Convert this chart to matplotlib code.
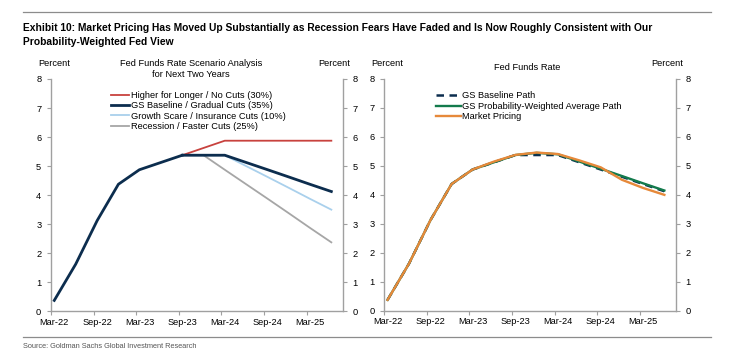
import pandas as pd
import matplotlib
matplotlib.use('Agg')
import matplotlib.pyplot as plt
import matplotlib.dates as mdates
from matplotlib.lines import Line2D

plt.rcParams['font.family'] = ['Liberation Sans', 'DejaVu Sans']

# quarterly dates (plotted mid-month)
hist_dates = ['2022-03-15', '2022-06-15', '2022-09-15', '2022-12-15',
              '2023-03-15', '2023-06-15', '2023-09-15']
hist_rate = [0.375, 1.625, 3.125, 4.375, 4.875, 5.125, 5.375]

scen_dates = ['2023-09-15', '2023-12-15', '2024-03-15', '2024-06-15',
              '2024-09-15', '2024-12-15', '2025-03-15', '2025-06-15']
higher_longer = [5.375, 5.625, 5.875, 5.875, 5.875, 5.875, 5.875, 5.875]
gs_baseline = [5.375, 5.375, 5.375, 5.125, 4.875, 4.625, 4.375, 4.125]
growth_scare = [5.375, 5.375, 5.375, 5.0, 4.625, 4.25, 3.875, 3.5]
recession = [5.375, 5.375, 4.875, 4.375, 3.875, 3.375, 2.875, 2.375]

path_dates = hist_dates + scen_dates[1:]
baseline_path = [0.375, 1.625, 3.125, 4.375, 4.875, 5.125, 5.375,
                 5.375, 5.375, 5.125, 4.875, 4.625, 4.375, 4.125]
weighted_path = [0.375, 1.625, 3.125, 4.375, 4.875, 5.125, 5.375,
                 5.45, 5.40, 5.15, 4.90, 4.65, 4.40, 4.15]
market_path = [0.375, 1.625, 3.125, 4.375, 4.875, 5.15, 5.38,
               5.46, 5.41, 5.19, 4.95, 4.52, 4.24, 4.00]

RED = '#C8423E'
NAVY = '#0C2D4E'
LBLUE = '#A9D0EC'
GRAY = '#A6A6A6'
GREEN = '#137A4C'
ORANGE = '#E6893A'
SPINE = '#A0A0A0'

hd = pd.to_datetime(hist_dates)
sd = pd.to_datetime(scen_dates)
pd_ = pd.to_datetime(path_dates)

fig = plt.figure(figsize=(7.33, 3.59), dpi=100)
W, H = 733, 359

def px_axes(x0, x1, y0, y1):
    return fig.add_axes([x0 / W, 1 - y1 / H, (x1 - x0) / W, (y1 - y0) / H])

def style_axes(ax):
    ax.set_ylim(0, 8)
    ax.set_yticks(range(0, 9))
    ax.set_xlim(pd.Timestamp('2022-03-01'), pd.Timestamp('2025-08-04'))
    ax.xaxis.set_major_locator(mdates.MonthLocator(bymonth=[3, 9]))
    ax.xaxis.set_major_formatter(plt.NullFormatter())
    ax.xaxis.set_minor_locator(mdates.MonthLocator(bymonth=[3, 9], bymonthday=15))
    ax.xaxis.set_minor_formatter(mdates.DateFormatter('%b-%y'))
    ax.tick_params(axis='x', which='major', length=3, color=SPINE, direction='out')
    ax.tick_params(axis='x', which='minor', length=0, labelsize=6.7, pad=4.5)
    ax.tick_params(axis='y', length=3, color=SPINE, direction='out', labelsize=6.7,
                   left=True, right=True, labelleft=True, labelright=True, pad=4)
    ax.spines['top'].set_visible(False)
    for s in ['left', 'right', 'bottom']:
        ax.spines[s].set_color(SPINE)
        ax.spines[s].set_linewidth(1.0)

# left panel
ax1 = px_axes(51, 343, 79, 311.3)
style_axes(ax1)
ax1.plot(sd, recession, color=GRAY, lw=1.3, label='Recession / Faster Cuts (25%)')
ax1.plot(sd, growth_scare, color=LBLUE, lw=1.3, label='Growth Scare / Insurance Cuts (10%)')
ax1.plot(sd, higher_longer, color=RED, lw=1.3, label='Higher for Longer / No Cuts (30%)')
ax1.plot(sd, gs_baseline, color=NAVY, lw=2.0, label='GS Baseline / Gradual Cuts (35%)')
ax1.plot(hd, hist_rate, color=NAVY, lw=2.0)
h, l = ax1.get_legend_handles_labels()
order = [2, 3, 1, 0]
ax1.legend([h[i] for i in order], [l[i] for i in order], loc='upper left',
           bbox_to_anchor=(111 / W, 1 - 91 / H), bbox_transform=fig.transFigure,
           frameon=False, fontsize=6.7, handlelength=1.9, handletextpad=0.25,
           labelspacing=0.14, borderpad=0, borderaxespad=0)

# right panel
ax2 = px_axes(384.3, 676, 79, 310.7)
style_axes(ax2)
ax2.plot(pd_, baseline_path, color=NAVY, lw=1.8, ls=(0, (3, 2.2)), label='GS Baseline Path')
ax2.plot(pd_, weighted_path, color=GREEN, lw=1.7, label='GS Probability-Weighted Average Path')
ax2.plot(pd_, market_path, color=ORANGE, lw=1.7, label='Market Pricing')
ax2.legend(loc='upper left', bbox_to_anchor=(435.5 / W, 1 - 91.5 / H),
           bbox_transform=fig.transFigure, frameon=False, fontsize=6.7,
           handlelength=2.7, handletextpad=0.2, labelspacing=0.14,
           borderpad=0, borderaxespad=0)

# labels above axes
def ftext(x, y, s, **kw):
    fig.text(x / W, 1 - y / H, s, va='center', **kw)

ftext(54, 63.3, 'Percent', ha='center', fontsize=6.7)
ftext(334, 63.3, 'Percent', ha='center', fontsize=6.7)
ftext(387, 63.3, 'Percent', ha='center', fontsize=6.7)
ftext(667.5, 63.3, 'Percent', ha='center', fontsize=6.7)
ftext(190.8, 63.3, 'Fed Funds Rate Scenario Analysis', ha='center', fontsize=6.7)
ftext(190.8, 74.3, 'for Next Two Years', ha='center', fontsize=6.7)
ftext(527.5, 67.7, 'Fed Funds Rate', ha='center', fontsize=6.7)

# header / footer
ftext(22.7, 28, 'Exhibit 10: Market Pricing Has Moved Up Substantially as Recession Fears '
      'Have Faded and Is Now Roughly Consistent with Our', ha='left', fontsize=7.35,
      fontweight='bold')
ftext(22.7, 41.7, 'Probability-Weighted Fed View', ha='left', fontsize=7.35,
      fontweight='bold')
ftext(23, 347, 'Source: Goldman Sachs Global Investment Research', ha='left',
      fontsize=5.3, color='#555555')

fig.add_artist(Line2D([22.7 / W, 711 / W], [1 - 12.3 / H] * 2, color='#8C8C8C', lw=0.9,
                      transform=fig.transFigure))
fig.add_artist(Line2D([22.7 / W, 711 / W], [1 - 336.7 / H] * 2, color='#8C8C8C', lw=0.9,
                      transform=fig.transFigure))

fig.savefig('out.png', dpi=100)
